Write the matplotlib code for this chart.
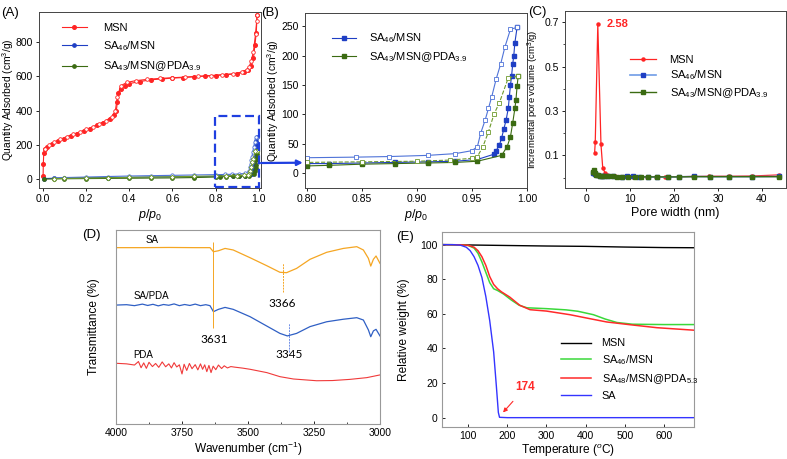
import numpy as np
import matplotlib
matplotlib.use("Agg")
import matplotlib.pyplot as plt
from matplotlib.patches import Rectangle, ConnectionPatch

plt.rcParams['font.family'] = ['Liberation Sans', 'DejaVu Sans']
plt.rcParams['mathtext.fontset'] = 'custom'
plt.rcParams['mathtext.rm'] = 'Liberation Sans'
plt.rcParams['mathtext.it'] = 'Liberation Sans:italic'

# ---- (A)/(B) N2 isotherms ----
msn_ads_p = [0.001, 0.002, 0.004, 0.01, 0.02, 0.04, 0.07, 0.10, 0.13, 0.16, 0.19, 0.22, 0.25, 0.28, 0.31,
             0.33, 0.34, 0.345, 0.35, 0.36, 0.38, 0.40, 0.45, 0.50, 0.55, 0.60, 0.65, 0.70, 0.75, 0.80,
             0.85, 0.90, 0.93, 0.95, 0.965, 0.975, 0.982, 0.988, 0.992]
msn_ads_q = [20, 90, 150, 175, 190, 205, 220, 235, 250, 265, 280, 295, 315, 330, 350,
             375, 400, 450, 500, 525, 545, 558, 570, 580, 585, 590, 593, 598, 602, 605,
             610, 615, 625, 635, 660, 705, 785, 855, 960]
msn_des_p = [0.992, 0.99, 0.985, 0.975, 0.965, 0.955, 0.945, 0.92, 0.88, 0.83, 0.78, 0.72, 0.66, 0.60,
             0.54, 0.48, 0.43, 0.39, 0.36, 0.345, 0.335, 0.32, 0.29, 0.26, 0.23, 0.20, 0.17, 0.14, 0.11,
             0.08, 0.05, 0.03, 0.01]
msn_des_q = [960, 925, 850, 745, 690, 655, 640, 625, 615, 610, 605, 600, 596, 592,
             588, 582, 575, 565, 545, 480, 395, 365, 340, 322, 305, 290, 275, 262, 248,
             232, 215, 200, 175]

sa46_ads_p = [0.005, 0.05, 0.10, 0.20, 0.30, 0.40, 0.50, 0.60, 0.70, 0.80, 0.82, 0.85, 0.88, 0.91, 0.935,
              0.955, 0.97, 0.972, 0.975, 0.977, 0.979, 0.981, 0.983, 0.984, 0.985, 0.986, 0.987, 0.988,
              0.989, 0.991]
sa46_ads_q = [3, 5, 6, 8, 9, 10, 12, 13, 14, 16, 16, 17, 18, 19, 20,
              23, 32, 38, 48, 60, 75, 90, 110, 130, 150, 165, 185, 200,
              222, 248]
sa46_des_p = [0.991, 0.985, 0.98, 0.976, 0.972, 0.968, 0.965, 0.962, 0.958, 0.955, 0.95, 0.935, 0.91, 0.875,
              0.845, 0.80, 0.70, 0.60, 0.50, 0.40, 0.30, 0.20, 0.10, 0.05]
sa46_des_q = [248, 245, 215, 185, 160, 130, 110, 90, 68, 45, 38, 33, 30, 28,
              27, 26, 24, 22, 20, 18, 15, 12, 9, 7]

sa43_ads_p = [0.005, 0.05, 0.10, 0.20, 0.30, 0.40, 0.50, 0.60, 0.70, 0.80, 0.82, 0.85, 0.88, 0.91, 0.935,
              0.955, 0.977, 0.982, 0.985, 0.987, 0.989, 0.99, 0.991, 0.992]
sa43_ads_q = [0, 1, 2, 3, 4, 5, 6, 7, 9, 12, 13, 15, 16, 17, 18,
              20, 30, 45, 62, 85, 110, 125, 148, 165]
sa43_des_p = [0.992, 0.983, 0.975, 0.97, 0.965, 0.96, 0.955, 0.95, 0.93, 0.90, 0.85, 0.80, 0.70, 0.60,
              0.50, 0.40, 0.30, 0.20, 0.10, 0.05]
sa43_des_q = [165, 162, 120, 100, 70, 45, 28, 25, 22, 20, 19, 18, 16, 14,
              12, 10, 8, 6, 4, 3]

# ---- (C) pore size distribution ----
msn_pw = [1.85, 2.0, 2.58, 3.3, 3.7, 4.2, 4.7, 5.2, 5.8, 6.5, 7.2, 8.3, 9.4, 10.5, 11.7, 13.9, 15.8, 18.0,
          21.2, 24.4, 28.0, 32.5, 37.7, 44.0]
msn_pv = [0.11, 0.16, 0.69, 0.15, 0.045, 0.022, 0.013, 0.009, 0.007, 0.005, 0.004, 0.004, 0.003, 0.003,
          0.003, 0.003, 0.003, 0.003, 0.004, 0.005, 0.006, 0.006, 0.007, 0.012]
sa46_pw = [1.5, 1.7, 2.0, 2.5, 3.0, 3.5, 4.0, 5.0, 6.0, 8.0, 9.3, 10.5, 12.0, 14.0, 16.0, 18.5, 21.0,
           24.5, 28.2, 32.5, 37.7, 44.0]
sa46_pv = [0.02, 0.022, 0.015, 0.01, 0.008, 0.007, 0.006, 0.005, 0.005, 0.004, 0.005, 0.005, 0.003,
           0.002, 0.002, 0.002, 0.003, 0.005, 0.004, 0.004, 0.004, 0.005]
sa43_pw = [1.5, 1.7, 1.9, 2.2, 2.6, 3.0, 3.5, 4.0, 5.0, 6.0, 7.0, 8.0, 9.5, 11.0, 12.5, 14.0, 16.0,
           18.5, 21.0, 24.5, 28.2, 32.5, 37.7, 44.0]
sa43_pv = [0.025, 0.032, 0.02, 0.012, 0.01, 0.008, 0.007, 0.006, 0.005, 0.005, 0.004, 0.004, 0.004,
           0.003, 0.003, 0.003, 0.003, 0.003, 0.003, 0.004, 0.004, 0.004, 0.004, 0.004]

# ---- (D) FTIR (offset, arbitrary units) ----
sa_wn = [4000, 3900, 3800, 3700, 3644, 3631, 3612, 3587, 3556, 3492, 3429, 3379, 3354, 3316, 3265, 3202,
         3139, 3088, 3063, 3044, 3035, 3025, 3015, 3000]
sa_t = [90.9, 90.9, 91.0, 90.9, 90.9, 88.8, 89.3, 90.5, 89.7, 85.7, 81.6, 78.2, 78.0, 80.2, 84.9, 88.5,
        90.5, 91.4, 89.7, 85.4, 81.4, 84.9, 86.6, 82.8]
sapda_wn = [4000, 3960, 3930, 3900, 3880, 3860, 3840, 3820, 3800, 3780, 3760, 3740, 3720, 3700, 3680,
            3660, 3644, 3631, 3612, 3587, 3556, 3492, 3429, 3379, 3351, 3316, 3265, 3202, 3139, 3088,
            3063, 3044, 3035, 3025, 3015, 3000]
sapda_t = [61.3, 61.5, 61.0, 61.8, 61.1, 61.7, 60.9, 61.6, 61.2, 61.9, 61.0, 61.6, 61.1, 61.8, 61.0,
           61.5, 61.0, 57.9, 59.1, 60.1, 59.1, 55.3, 50.5, 46.7, 45.4, 46.7, 50.2, 52.7, 54.0, 54.8,
           53.6, 48.5, 45.0, 48.0, 48.8, 45.4]
pda_wn = [4000, 3960, 3930, 3915, 3905, 3895, 3885, 3875, 3862, 3850, 3838, 3825, 3812, 3800, 3790,
          3780, 3770, 3760, 3750, 3742, 3732, 3722, 3712, 3700, 3690, 3680, 3672, 3664, 3656, 3648,
          3640, 3632, 3622, 3612, 3600, 3590, 3578, 3565, 3550, 3520, 3492, 3429, 3379, 3328, 3240,
          3180, 3114, 3050, 3000]
pda_t = [31.3, 31.0, 30.4, 32.2, 29.0, 31.5, 28.7, 31.8, 29.6, 31.2, 29.2, 32.0, 29.5, 31.0, 28.9,
         31.6, 29.4, 30.5, 25.8, 30.8, 27.6, 31.2, 28.5, 30.6, 27.9, 31.0, 28.2, 30.5, 27.0, 30.2,
         26.5, 29.8, 28.0, 30.4, 28.6, 30.0, 28.9, 29.6, 29.3, 28.8, 28.2, 26.5, 24.4, 23.2, 22.3,
         22.4, 23.0, 23.9, 25.3]

# ---- (E) TGA ----
msn_T = [30, 100, 200, 300, 400, 500, 600, 680]
msn_w = [100, 99.8, 99.5, 99.2, 99.0, 98.6, 98.3, 98.2]
sa46_T = [30, 80, 100, 115, 125, 135, 145, 155, 165, 175, 190, 210, 230, 250, 300, 350, 380, 420, 450,
          480, 520, 600, 680]
sa46_w = [100, 99.9, 99.5, 98.0, 95.0, 90.0, 84.0, 78.0, 74.5, 73.5, 71.5, 68.0, 65.0, 63.5, 63.0, 62.3,
          61.5, 59.5, 57.0, 55.0, 54.0, 53.8, 53.8]
sa48_T = [30, 80, 100, 115, 125, 135, 145, 155, 165, 175, 185, 206, 232, 258, 300, 360, 411, 454, 514,
          582, 680]
sa48_w = [100, 99.9, 99.6, 98.5, 96.5, 93.0, 88.0, 81.5, 77.0, 74.5, 72.7, 69.7, 64.9, 62.4, 61.6,
          59.5, 57.2, 55.3, 53.7, 52.0, 50.5]
sa_T = [30, 60, 80, 95, 105, 115, 125, 135, 145, 155, 165, 172, 177, 180, 200, 680]
sa_w = [100, 100, 99.7, 98.5, 96.5, 93.0, 88.0, 81.0, 70.0, 56.0, 38.0, 18.0, 3.0, 0.2, 0.0, 0.0]

W, H = 787, 459
fig = plt.figure(figsize=(W / 100, H / 100), dpi=100)


def add_ax(left, top, right, bottom):
    return fig.add_axes([left / W, 1 - bottom / H, (right - left) / W, (bottom - top) / H])


tick_fs = 7.5
red, blue, green = '#ff2424', '#1f3fc4', '#3b6b12'

# (A)
axA = add_ax(39, 12, 261, 188)
axA.plot(msn_ads_p, msn_ads_q, '-o', color=red, ms=2.6, lw=0.8, label='MSN')
axA.plot(msn_des_p, msn_des_q, '-o', color=red, mfc='white', ms=2.6, lw=0.8, mew=0.6)
axA.plot(sa46_ads_p, sa46_ads_q, '-o', color=blue, ms=2.4, lw=0.8, label='SA$_{46}$/MSN')
axA.plot(sa46_des_p, sa46_des_q, '-o', color='#4f73d8', mfc='white', ms=2.4, lw=0.8, mew=0.6)
axA.plot(sa43_ads_p, sa43_ads_q, '-o', color=green, ms=2.4, lw=0.8, label='SA$_{43}$/MSN@PDA$_{3.9}$')
axA.plot(sa43_des_p, sa43_des_q, '-D', color='#6e9a2c', mfc='white', ms=2.4, lw=0.8, mew=0.6)
axA.set_xlim(-0.018, 1.01)
axA.set_ylim(-52, 976)
axA.set_xticks([0, 0.2, 0.4, 0.6, 0.8, 1.0])
axA.set_xticklabels(['0.0', '0.2', '0.4', '0.6', '0.8', '1.0'])
axA.set_yticks([0, 200, 400, 600, 800])
axA.set_xlabel('$p$/$p_0$', fontsize=9)
axA.set_ylabel('Quantity Adsorbed (cm$^3$/g)', fontsize=7.4)
axA.xaxis.set_label_coords(0.5, -0.108)
axA.yaxis.set_label_coords(-0.104, 0.5)
axA.add_patch(Rectangle((0.797, -45), 0.203, 415, fill=False, ec='#1f3fe0', lw=1.6,
                        ls=(0, (4, 2)), clip_on=False, zorder=5))
axA.legend(loc='upper left', bbox_to_anchor=(56 / W, 1 - 17 / H), bbox_transform=fig.transFigure,
           frameon=False, fontsize=8, borderpad=0, handlelength=2.3, handletextpad=1.4,
           labelspacing=0.6)

# (B)
axB = add_ax(305, 13, 527, 188)
axB.plot(sa46_ads_p, sa46_ads_q, '-s', color=blue, ms=2.4, lw=0.8, label='SA$_{46}$/MSN')
axB.plot(sa46_des_p, sa46_des_q, '-s', color='#4f73d8', mfc='white', ms=2.4, lw=0.8, mew=0.6)
axB.plot(sa43_ads_p, sa43_ads_q, '-s', color=green, ms=2.4, lw=0.8, label='SA$_{43}$/MSN@PDA$_{3.9}$')
axB.plot(sa43_des_p, sa43_des_q, '--s', color='#6e9a2c', mfc='white', ms=2.4, lw=0.8, mew=0.6)
axB.set_xlim(0.7985, 1.0)
axB.set_ylim(-25.6, 272.6)
axB.set_xticks([0.80, 0.85, 0.90, 0.95, 1.0])
axB.set_xticklabels(['0.80', '0.85', '0.90', '0.95', '1.00'])
axB.set_yticks([0, 50, 100, 150, 200, 250])
axB.set_xlabel('$p$/$p_0$', fontsize=9)
axB.set_ylabel('Quantity Adsorbed (cm$^3$/g)', fontsize=7.4)
axB.xaxis.set_label_coords(0.5, -0.109)
axB.yaxis.set_label_coords(-0.108, 0.5)
axB.legend(loc='upper left', bbox_to_anchor=(326 / W, 1 - 26 / H), bbox_transform=fig.transFigure,
           frameon=False, fontsize=8, borderpad=0, handlelength=2.2, handletextpad=1.2,
           labelspacing=0.45)

con = ConnectionPatch(xyA=(1.0, 94), coordsA=axA.get_yaxis_transform(),
                      xyB=(-0.01, 17.5), coordsB=axB.get_yaxis_transform(),
                      arrowstyle='-|>', color='#1f3fe0', lw=1.6, mutation_scale=8, zorder=6)
fig.add_artist(con)

# (C)
axC = add_ax(565, 11, 786, 188)
axC.plot(msn_pw, msn_pv, '-o', color=red, ms=2.2, lw=0.9, label='MSN')
axC.plot(sa46_pw, sa46_pv, '-s', color='#6f9ce6', mfc=blue, mec=blue, ms=2.2, lw=1.2,
         label='SA$_{46}$/MSN')
axC.plot(sa43_pw, sa43_pv, '-s', color=green, ms=2.4, lw=1.0, label='SA$_{43}$/MSN@PDA$_{3.9}$')
axC.set_xlim(-4.9, 45.5)
axC.set_ylim(-0.047, 0.75)
axC.set_xticks([0, 10, 20, 30, 40])
axC.set_yticks([0.1, 0.3, 0.5, 0.7])
axC.set_yticks([0, 0.2, 0.4, 0.6], minor=True)
axC.text(4.5, 0.69, '2.58', color=red, fontsize=8, fontweight='bold', va='center')
axC.set_xlabel('Pore width (nm)', fontsize=9)
axC.set_ylabel('Incremental pore volume (cm$^3$/g)', fontsize=6.8)
axC.xaxis.set_label_coords(0.5, -0.107)
axC.yaxis.set_label_coords(-0.109, 0.5)
axC.legend(loc='upper left', bbox_to_anchor=(624 / W, 1 - 49 / H), bbox_transform=fig.transFigure,
           frameon=False, fontsize=8, borderpad=0, handlelength=2.4, handletextpad=1.2,
           labelspacing=0.35)

for ax in (axA, axB, axC):
    ax.tick_params(labelsize=tick_fs, length=2.5, width=0.6, pad=2)
    ax.tick_params(which='minor', length=1.5, width=0.5)
    for s in ax.spines.values():
        s.set_color('#444444')
        s.set_linewidth(0.7)

# (D)
axD = add_ax(116, 230, 380, 424)
axD.plot(sa_wn, sa_t, color='#f5a623', lw=0.9)
axD.plot(sapda_wn, sapda_t, color='#2f5fc4', lw=0.9)
axD.plot(pda_wn, pda_t, color='#f03a3a', lw=0.8)
axD.vlines(3631, 49.3, 94, color='#f5a623', lw=0.7)
axD.vlines(3366, 68.2, 82.8, color='#f5a623', lw=0.7, linestyles=(0, (2, 1)))
axD.vlines(3345, 37.3, 51.9, color='#6f8fe6', lw=0.7, linestyles=(0, (2, 1)))
num_font = dict(family=['Lato', 'DejaVu Sans'], fontsize=8.5, ha='center', va='center')
axD.text(3369, 62.2, '3366', **num_font)
axD.text(3628, 43.3, '3631', **num_font)
axD.text(3343, 35.9, '3345', **num_font)
axD.text(3865, 94.8, 'SA', fontsize=7, ha='center', va='center')
axD.text(3865, 65.8, 'SA/PDA', fontsize=7, ha='center', va='center')
axD.text(3896, 35.8, 'PDA', fontsize=7, ha='center', va='center')
axD.set_xlim(4000, 3000)
axD.set_ylim(0, 100)
axD.set_xticks([4000, 3750, 3500, 3250, 3000])
axD.set_xticks([3875, 3625, 3375, 3125], minor=True)
axD.set_yticks([])
axD.set_xlabel('Wavenumber (cm$^{-1}$)', fontsize=8.6)
axD.set_ylabel('Transmittance (%)', fontsize=8.6)
axD.xaxis.set_label_coords(0.5, -0.08)
axD.yaxis.set_label_coords(-0.061, 0.5)

# (E)
axE = add_ax(442, 232, 694, 427)
axE.plot(msn_T, msn_w, color='black', lw=1.0, label='MSN')
axE.plot(sa46_T, sa46_w, color='#3ad83a', lw=1.1, label='SA$_{46}$/MSN')
axE.plot(sa48_T, sa48_w, color='#ff2a2a', lw=1.1, label='SA$_{48}$/MSN@PDA$_{5.3}$')
axE.plot(sa_T, sa_w, color='#3434ff', lw=1.0, label='SA')
axE.annotate('174', xy=(189, 3), xytext=(246, 17.5), color='#ff2a2a', fontsize=8.5, fontweight='bold',
             ha='center', va='center',
             arrowprops=dict(arrowstyle='-|>', color='#ff2a2a', lw=0.8, mutation_scale=6,
                             shrinkA=5, shrinkB=0))
axE.set_xlim(33, 677)
axE.set_ylim(-5.4, 107.3)
axE.set_xticks([100, 200, 300, 400, 500, 600])
axE.set_yticks([0, 20, 40, 60, 80, 100])
axE.set_xlabel('Temperature ($^o$C)', fontsize=8.6)
axE.set_ylabel('Relative weight (%)', fontsize=8.6)
axE.xaxis.set_label_coords(0.5, -0.08)
axE.yaxis.set_label_coords(-0.127, 0.5)
axE.legend(loc='upper left', bbox_to_anchor=(556 / W, 1 - 333 / H), bbox_transform=fig.transFigure,
           frameon=False, fontsize=7.8, borderpad=0, handlelength=2.7, handletextpad=1.0,
           labelspacing=0.45)

for ax in (axD, axE):
    ax.tick_params(labelsize=tick_fs, direction='in', length=2.5, width=0.6, pad=3)
    ax.tick_params(which='minor', direction='in', length=1.5, width=0.5)
    for s in ax.spines.values():
        s.set_color('#999999')
        s.set_linewidth(0.8)

# panel letters
for txt, x, y in [('(A)', 1, 13), ('(B)', 261, 13), ('(C)', 528, 12), ('(D)', 82, 235), ('(E)', 396, 237)]:
    fig.text(x / W, 1 - y / H, txt, fontsize=9.5, ha='left', va='center')

fig.savefig('out.png', dpi=100)
